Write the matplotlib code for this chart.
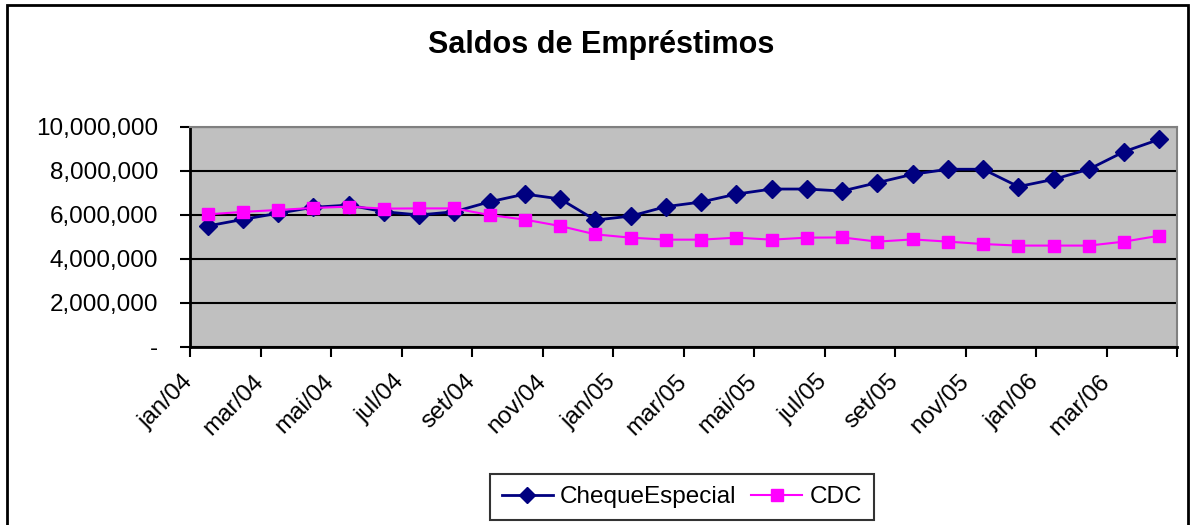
import matplotlib
matplotlib.use("Agg")
import matplotlib.pyplot as plt
import matplotlib.transforms as mtransforms
from matplotlib.patches import Rectangle
from matplotlib.ticker import FuncFormatter
import numpy as np

plt.rcParams['font.family'] = ['Liberation Sans', 'DejaVu Sans']

# data
months = ["jan/04", "fev/04", "mar/04", "abr/04", "mai/04", "jun/04", "jul/04", "ago/04",
          "set/04", "out/04", "nov/04", "dez/04", "jan/05", "fev/05", "mar/05", "abr/05",
          "mai/05", "jun/05", "jul/05", "ago/05", "set/05", "out/05", "nov/05", "dez/05",
          "jan/06", "fev/06", "mar/06", "abr/06"]
cheque = [5.50, 5.80, 6.08, 6.35, 6.45, 6.15, 6.00, 6.15, 6.60, 6.95, 6.73, 5.77, 5.95, 6.38,
          6.59, 6.95, 7.18, 7.18, 7.09, 7.47, 7.85, 8.08, 8.08, 7.29, 7.62, 8.08, 8.88, 9.44]
cdc = [6.03, 6.14, 6.23, 6.32, 6.38, 6.29, 6.30, 6.30, 6.00, 5.79, 5.50, 5.12, 4.97, 4.88,
       4.88, 4.97, 4.88, 4.97, 4.98, 4.79, 4.89, 4.79, 4.68, 4.61, 4.61, 4.61, 4.79, 5.06]
cheque = np.array(cheque) * 1e6
cdc = np.array(cdc) * 1e6

x = np.arange(1, len(months) + 1)

fig = plt.figure(figsize=(11.92, 5.25), dpi=100)
ax = fig.add_axes([190 / 1192, 1 - 347 / 525, (1177 - 190) / 1192, (347 - 127) / 525])
ax.set_facecolor("#C0C0C0")

# outer chart border
fig.patches.append(Rectangle((7 / 1192, -0.01), 1181 / 1192, 1 - 5 / 525 + 0.01,
                             transform=fig.transFigure, fill=False, edgecolor="black",
                             linewidth=2))

ax.plot(x, cheque, color="#000080", lw=2, marker="D", markersize=9, label="ChequeEspecial")
ax.plot(x, cdc, color="#FF00FF", lw=1.5, marker="s", markersize=9, label="CDC")

ax.set_xlim(0.5, len(months) + 0.5)
ax.set_ylim(0, 10e6)
ax.set_yticks(np.arange(0, 10.1e6, 2e6))
ax.yaxis.set_major_formatter(FuncFormatter(lambda v, p: "-" if v == 0 else "{:,.0f}".format(v)))
ax.grid(axis="y", color="black", lw=1.5)
ax.set_axisbelow(True)

# tick marks on category boundaries, labels on category centres
ax.set_xticks(np.arange(0.5, len(months) + 1, 2))
ax.set_xticklabels([])
ax.set_xticks(x[::2], minor=True)
ax.set_xticklabels(months[::2], minor=True, rotation=45, ha="right", va="top")
ax.tick_params(axis="x", which="major", length=7, width=1.5, direction="out")
ax.tick_params(axis="x", which="minor", length=0, pad=17, labelsize=17.5)
ax.tick_params(axis="y", length=7, width=1.5, pad=16, labelsize=17.5)
off = mtransforms.ScaledTranslation(-10 / 100, 0, fig.dpi_scale_trans)
for lab in ax.xaxis.get_minorticklabels():
    lab.set_transform(lab.get_transform() + off)

for s in ["left", "bottom"]:
    ax.spines[s].set_linewidth(2)
    ax.spines[s].set_color("black")
for s in ["top", "right"]:
    ax.spines[s].set_linewidth(1.5)
    ax.spines[s].set_color("#808080")

fig.text(0.504, 1 - 45 / 525, "Saldos de Empréstimos", ha="center", va="center",
         fontsize=22, fontweight="bold")

leg = fig.legend(loc="center", bbox_to_anchor=(682 / 1192, 1 - 497 / 525), ncol=2,
                 fontsize=17.5, frameon=True, fancybox=False, edgecolor="black",
                 handlelength=2.1, columnspacing=0.6, handletextpad=0.3, borderpad=0.5)
leg.get_frame().set_linewidth(1.5)
for h in leg.legend_handles:
    h.set_markersize(8)

fig.savefig("out.png", dpi=100)
